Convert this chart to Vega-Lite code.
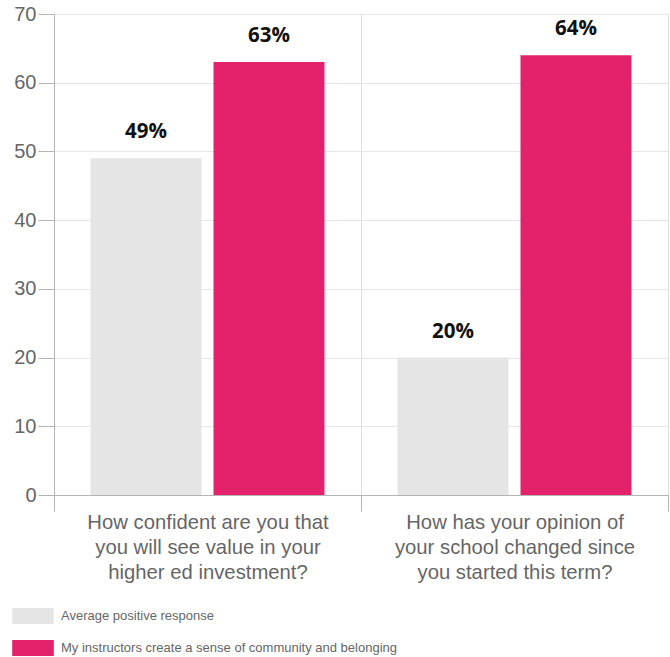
{
  "$schema": "https://vega.github.io/schema/vega-lite/v6.json",
  "width": 614,
  "height": 481,
  "autosize": {"type": "none"},
  "padding": {"left": 54, "top": 14, "right": 2, "bottom": 162},
  "background": "white",
  "config": {"view": {"stroke": null}, "font": "Liberation Sans"},
  "data": {
    "values": [
      {"question": "How confident are you that\nyou will see value in your\nhigher ed investment?", "series": "Average positive response", "value": 49, "label": "49%"},
      {"question": "How confident are you that\nyou will see value in your\nhigher ed investment?", "series": "My instructors create a sense of community and belonging", "value": 63, "label": "63%"},
      {"question": "How has your opinion of\nyour school changed since\nyou started this term?", "series": "Average positive response", "value": 20, "label": "20%"},
      {"question": "How has your opinion of\nyour school changed since\nyou started this term?", "series": "My instructors create a sense of community and belonging", "value": 64, "label": "64%"}
    ]
  },
  "encoding": {
    "x": {
      "field": "question", "type": "nominal", "sort": null,
      "scale": {"paddingInner": 0, "paddingOuter": 0},
      "axis": {
        "title": null, "tickBand": "extent", "grid": true, "gridColor": "#e0e0e0",
        "domainColor": "#b5b5b5", "tickColor": "#b5b5b5", "tickSize": 16,
        "labelFontSize": 20.3, "labelColor": "#666666", "labelAngle": 0,
        "labelLineHeight": 25, "labelPadding": 1, "labelBaseline": "top",
        "labelLimit": 500,
        "labelExpr": "split(datum.label, '\\n')"
      }
    },
    "xOffset": {
      "field": "series", "type": "nominal", "sort": null,
      "scale": {"paddingInner": 0.0976, "paddingOuter": 0.297}
    },
    "y": {
      "field": "value", "type": "quantitative",
      "scale": {"domain": [0, 70], "nice": false},
      "axis": {
        "title": null, "values": [0, 10, 20, 30, 40, 50, 60, 70], "grid": true,
        "gridColor": "#e6e6e6", "domainColor": "#b5b5b5", "tickColor": "#b5b5b5",
        "tickSize": 16, "labelFontSize": 20, "labelColor": "#666666", "labelPadding": 2
      }
    }
  },
  "layer": [
    {
      "mark": {"type": "bar"},
      "encoding": {
        "color": {
          "field": "series", "type": "nominal",
          "scale": {"domain": ["Average positive response", "My instructors create a sense of community and belonging"], "range": ["#e5e5e5", "#e4216b"]},
          "legend": {
            "orient": "none", "legendX": -29, "legendY": 594, "direction": "vertical",
            "title": null, "padding": 0, "symbolType": "M-2.6,-1H2.6V1H-2.6Z",
            "symbolSize": 256, "symbolStrokeWidth": 0, "labelFontSize": 13,
            "labelColor": "#666666", "labelOffset": 20, "rowPadding": 16, "labelLimit": 600
          }
        }
      }
    },
    {
      "mark": {"type": "text", "dy": -20, "baseline": "alphabetic", "fontWeight": "bold", "font": "Open Sans", "fontSize": 20.5, "color": "#111111"},
      "encoding": {"text": {"field": "label"}}
    }
  ]
}
